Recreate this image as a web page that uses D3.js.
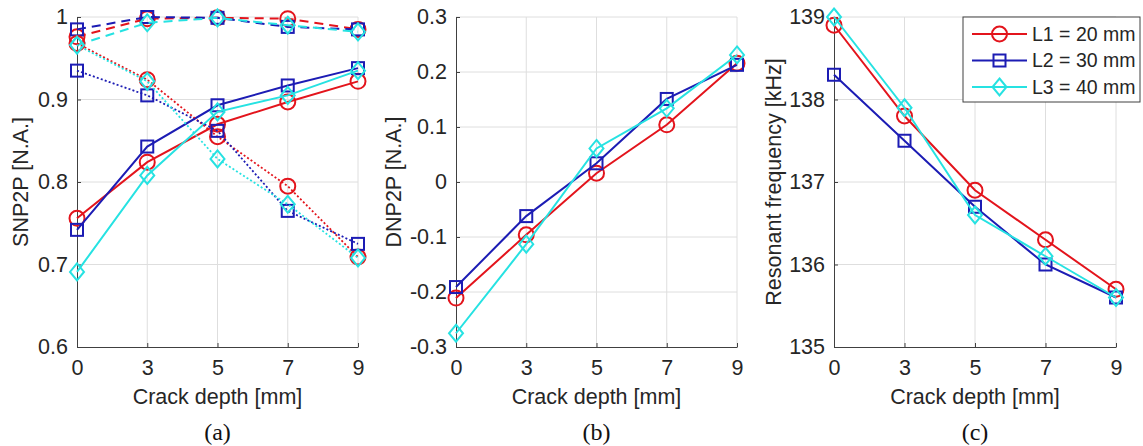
<!DOCTYPE html>
<html>
<head>
<meta charset="utf-8">
<script src="https://cdn.jsdelivr.net/npm/d3@7"></script>
<style>
  body { margin: 0; background: #fff; }
  svg { display: block; font-family: "Liberation Sans", Arial, sans-serif; }
  .grid line { stroke: #dedede; stroke-width: 1; }
  .axis path, .axis line { stroke: #404040; }
  .axis text { fill: #262626; font-size: 21.5px; }
  .lbl { fill: #262626; font-size: 21.5px; }
  .leg { fill: #262626; font-size: 19.5px; }
  .cap { fill: #111; font-size: 24px; font-family: "Liberation Serif", "Times New Roman", serif; }
</style>
</head>
<body>
<div id="chart"></div>
<script>
// ---------------------------------------------------------------------
// Data
// ---------------------------------------------------------------------
const depths = ["0", "3", "5", "7", "9"];
const lengths = ["L1 = 20 mm", "L2 = 30 mm", "L3 = 40 mm"];

// (a) SNP2P — three line styles per length
const snpSolid = [
  [0.756, 0.824, 0.870, 0.897, 0.922],
  [0.742, 0.843, 0.893, 0.917, 0.938],
  [0.691, 0.808, 0.885, 0.905, 0.935],
];
const snpDashed = [
  [0.976, 0.998, 0.999, 0.998, 0.985],
  [0.985, 1.000, 0.999, 0.988, 0.985],
  [0.966, 0.993, 0.999, 0.990, 0.982],
];
const snpDotted = [
  [0.968, 0.924, 0.855, 0.795, 0.709],
  [0.935, 0.905, 0.862, 0.765, 0.725],
  [0.966, 0.922, 0.828, 0.773, 0.708],
];

// (b) DNP2P
const dnp = [
  [-0.211, -0.096, 0.016, 0.104, 0.216],
  [-0.191, -0.062, 0.034, 0.151, 0.213],
  [-0.275, -0.113, 0.061, 0.134, 0.231],
];

// (c) Resonant frequency [kHz]
const freq = [
  [138.9, 137.8, 136.9, 136.3, 135.7],
  [138.3, 137.5, 136.7, 136.0, 135.6],
  [139.0, 137.9, 136.6, 136.1, 135.6],
];

const snpTicks = [0.6, 0.7, 0.8, 0.9, 1];
const dnpTicks = [-0.3, -0.2, -0.1, 0, 0.1, 0.2, 0.3];
const freqTicks = [135, 136, 137, 138, 139];

// ---------------------------------------------------------------------
// Styling
// ---------------------------------------------------------------------
const COLORS = ["#e3141c", "#1c1cb4", "#26e2e2"];
const MARKERS = ["circle", "square", "diamond"];
const DASH = { solid: null, dashed: "9,6", dotted: "2,2.2" };

const W = 1143, H = 446;
const svg = d3.select("#chart").append("svg")
  .attr("width", W).attr("height", H);

const panels = [
  { left: 77, right: 358, dom: [0.6, 1], ticks: snpTicks, fmt: d => (d === 1 ? "1" : d3.format(".1f")(d)),
    ylabel: "SNP2P [N.A.]", ylx: 20, cap: "(a)",
    series: [
      ...snpSolid.map((v, i) => ({ v, i, style: "solid" })),
      ...snpDashed.map((v, i) => ({ v, i, style: "dashed" })),
      ...snpDotted.map((v, i) => ({ v, i, style: "dotted" })),
    ] },
  { left: 456, right: 737, dom: [-0.3, 0.3], ticks: dnpTicks,
    fmt: d => (d === 0 ? "0" : d3.format(".1f")(d).replace("−", "-")),
    ylabel: "DNP2P [N.A.]", ylx: 393, cap: "(b)",
    series: dnp.map((v, i) => ({ v, i, style: "solid" })) },
  { left: 834, right: 1116, dom: [135, 139], ticks: freqTicks, fmt: d3.format("d"),
    ylabel: "Resonant frequency [kHz]", ylx: 773, cap: "(c)",
    series: freq.map((v, i) => ({ v, i, style: "solid" })) },
];

const plotTop = 17, plotBottom = 347;

function drawMarker(g, type, x, y, color) {
  if (type === "circle") {
    g.append("circle").attr("cx", x).attr("cy", y).attr("r", 7.5)
      .attr("fill", "none").attr("stroke", color).attr("stroke-width", 2);
  } else if (type === "square") {
    g.append("rect").attr("x", x - 6).attr("y", y - 6).attr("width", 12).attr("height", 12)
      .attr("fill", "none").attr("stroke", color).attr("stroke-width", 2);
  } else {
    g.append("path")
      .attr("d", `M${x},${y - 8.5}L${x + 7},${y}L${x},${y + 8.5}L${x - 7},${y}Z`)
      .attr("fill", "none").attr("stroke", color).attr("stroke-width", 2);
  }
}

panels.forEach(p => {
  const x = d3.scalePoint().domain(depths).range([p.left, p.right]);
  const y = d3.scaleLinear().domain(p.dom).range([plotBottom, plotTop]);
  const g = svg.append("g");

  // grid
  const grid = g.append("g").attr("class", "grid");
  grid.selectAll(".gx").data(depths.slice(1)).join("line")
    .attr("x1", d => x(d)).attr("x2", d => x(d)).attr("y1", plotTop).attr("y2", plotBottom);
  grid.selectAll(".gy").data(p.ticks.slice(1)).join("line")
    .attr("x1", p.left).attr("x2", p.right).attr("y1", d => y(d)).attr("y2", d => y(d));

  // axes
  g.append("g").attr("class", "axis")
    .attr("transform", `translate(0,${plotBottom})`)
    .call(d3.axisBottom(x).tickSizeInner(-4).tickSizeOuter(0).tickPadding(10))
    .call(a => a.selectAll("text").attr("dy", "0.85em"));
  g.append("g").attr("class", "axis")
    .attr("transform", `translate(${p.left},0)`)
    .call(d3.axisLeft(y).tickValues(p.ticks).tickFormat(p.fmt)
      .tickSizeInner(-4).tickSizeOuter(0).tickPadding(9));

  // series
  const line = d3.line().x((d, k) => x(depths[k])).y(d => y(d));
  p.series.forEach(s => {
    g.append("path").datum(s.v)
      .attr("d", line)
      .attr("fill", "none")
      .attr("stroke", COLORS[s.i])
      .attr("stroke-width", s.style === "dotted" ? 1.8 : 2)
      .attr("stroke-dasharray", DASH[s.style]);
    s.v.forEach((val, k) => drawMarker(g, MARKERS[s.i], x(depths[k]), y(val), COLORS[s.i]));
  });

  // labels
  g.append("text").attr("class", "lbl")
    .attr("x", (p.left + p.right) / 2).attr("y", 404)
    .attr("text-anchor", "middle").text("Crack depth [mm]");
  g.append("text").attr("class", "lbl")
    .attr("transform", `translate(${p.ylx},${(plotTop + plotBottom) / 2}) rotate(-90)`)
    .attr("dy", "0.35em").attr("text-anchor", "middle").text(p.ylabel);
  g.append("text").attr("class", "cap")
    .attr("x", (p.left + p.right) / 2).attr("y", 440)
    .attr("text-anchor", "middle").text(p.cap);
});

// legend (panel c)
const lg = svg.append("g").attr("transform", "translate(963,17)");
lg.append("rect").attr("width", 177).attr("height", 85)
  .attr("fill", "#fff").attr("stroke", "#404040").attr("stroke-width", 1);
lengths.forEach((name, i) => {
  const yy = 17 + i * 26.5;
  lg.append("line").attr("x1", 9).attr("x2", 64).attr("y1", yy).attr("y2", yy)
    .attr("stroke", COLORS[i]).attr("stroke-width", 2);
  drawMarker(lg, MARKERS[i], 36.5, yy, COLORS[i]);
  lg.append("text").attr("class", "leg").attr("x", 69).attr("y", yy)
    .attr("dy", "0.35em").text(name);
});
</script>
</body>
</html>
